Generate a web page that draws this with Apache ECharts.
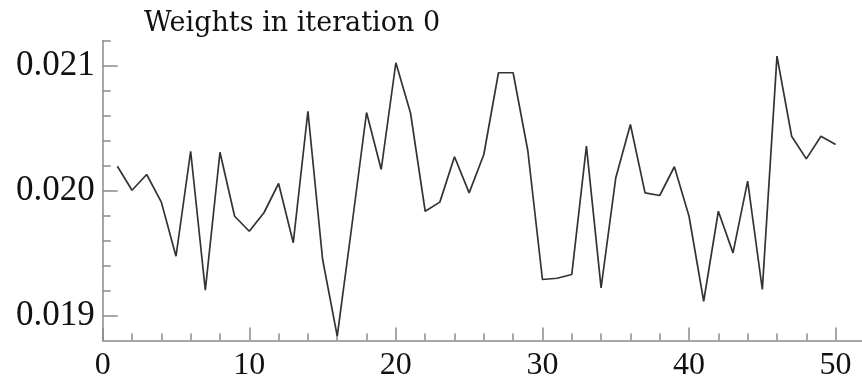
<!DOCTYPE html>
<html>
<head>
<meta charset="utf-8">
<script src="https://cdn.jsdelivr.net/npm/echarts@6/dist/echarts.min.js"></script>
<style>html,body{margin:0;padding:0;background:#fff}#c{width:862px;height:384px}</style>
</head>
<body>
<div id="c"></div>
<script>
const titleText = "Weights in iteration 0";
const xs = [1,2,3,4,5,6,7,8,9,10,11,12,13,14,15,16,17,18,19,20,21,22,23,24,25,26,27,28,29,30,31,32,33,34,35,36,37,38,39,40,41,42,43,44,45,46,47,48,49,50];
const weights = [0.020194,0.020002,0.020128,0.019907,0.019474,0.020314,0.019202,0.020306,0.019794,0.019674,
  0.019822,0.020056,0.019582,0.020634,0.01945,0.018835,0.01972,0.020624,0.020168,0.021022,
  0.020620,0.019834,0.019907,0.020270,0.019981,0.020288,0.020942,0.020942,0.020320,0.019288,
  0.019298,0.019328,0.020355,0.019221,0.020100,0.020528,0.019981,0.019960,0.020190,0.019794,
  0.019114,0.019834,0.019501,0.020075,0.019208,0.021075,0.020434,0.020253,0.020434,0.020368];
const xMajor = [0,10,20,30,40,50];
const xMinor = [2,4,6,8,12,14,16,18,22,24,26,28,32,34,36,38,42,44,46,48];
const yMajor = [0.019,0.020,0.021];
const yMinor = [0.0190,0.0192,0.0194,0.0196,0.0198,0.0202,0.0204,0.0206,0.0208,0.0212];

const X_MIN = 0, X_MAX = 51.8, Y_MIN = 0.0188, Y_MAX = 0.0212;
const font = "'Liberation Serif','Times New Roman',serif";
const titleFont = "'DejaVu Serif',serif";
const axisColor = '#8a8a8a';
const gridBox = {left: 102.7, right: 0, top: 40.5, bottom: 43.5};

const chart = echarts.init(document.getElementById('c'), null, {renderer: 'canvas'});
chart.setOption({
  animation: false,
  backgroundColor: '#fff',
  title: {
    text: titleText, left: 139, top: 5,
    textStyle: {fontFamily: titleFont, fontSize: 27, fontWeight: 'normal', color: '#111'}
  },
  grid: [Object.assign({}, gridBox), Object.assign({}, gridBox)],
  xAxis: [{
    type: 'value', gridIndex: 0, min: X_MIN, max: X_MAX, position: 'bottom',
    axisLine: {show: true, lineStyle: {color: axisColor, width: 1.5}},
    axisTick: {show: true, inside: true, length: 13, customValues: xMajor, lineStyle: {color: axisColor, width: 1.5}},
    axisLabel: {show: true, customValues: xMajor, margin: 9, fontFamily: font, fontSize: 32, color: '#111'},
    splitLine: {show: false}
  }, {
    type: 'value', gridIndex: 1, min: X_MIN, max: X_MAX, position: 'bottom',
    axisLine: {show: false},
    axisTick: {show: true, inside: true, length: 7, customValues: xMinor, lineStyle: {color: axisColor, width: 1.5}},
    axisLabel: {show: false},
    splitLine: {show: false}
  }],
  yAxis: [{
    type: 'value', gridIndex: 0, min: Y_MIN, max: Y_MAX, position: 'left',
    axisLine: {show: true, lineStyle: {color: axisColor, width: 1.5}},
    axisTick: {show: true, inside: true, length: 15, customValues: yMajor, lineStyle: {color: axisColor, width: 1.5}},
    axisLabel: {show: true, customValues: yMajor, margin: 8, fontFamily: font, fontSize: 35, color: '#111',
      formatter: v => v.toFixed(3)},
    splitLine: {show: false}
  }, {
    type: 'value', gridIndex: 1, min: Y_MIN, max: Y_MAX, position: 'left',
    axisLine: {show: false},
    axisTick: {show: true, inside: true, length: 8, customValues: yMinor, lineStyle: {color: axisColor, width: 1.5}},
    axisLabel: {show: false},
    splitLine: {show: false}
  }],
  series: [{
    type: 'line', xAxisIndex: 0, yAxisIndex: 0,
    data: xs.map((x, i) => [x, weights[i]]),
    symbol: 'none',
    lineStyle: {color: '#333', width: 1.7},
    clip: false
  }]
});
</script>
</body>
</html>
